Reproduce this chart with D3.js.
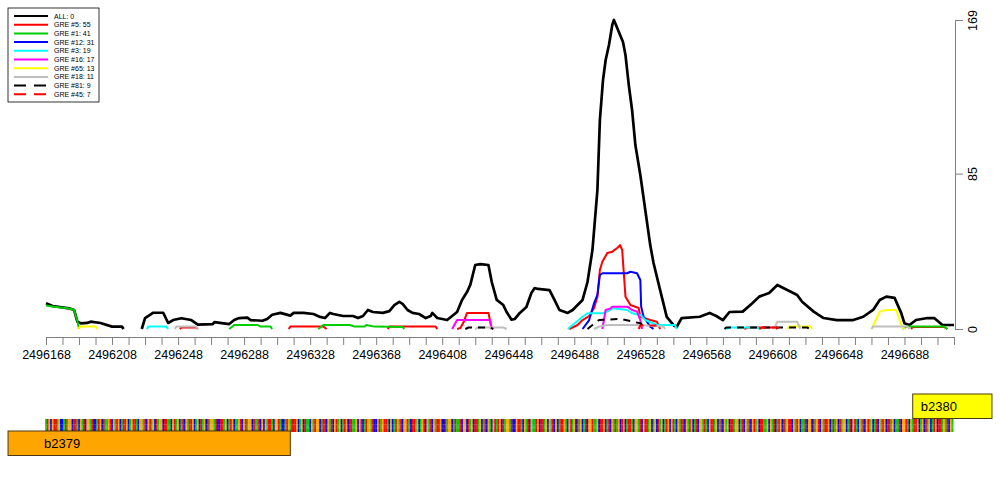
<!DOCTYPE html>
<html>
<head>
<meta charset="utf-8">
<script src="https://cdn.jsdelivr.net/npm/d3@7"></script>
<style>
  body { margin: 0; background: #fff; }
  svg { display: block; font-family: "Liberation Sans", Arial, sans-serif; }
</style>
</head>
<body>
<svg id="chart" width="1000" height="500"></svg>
<script>
const posStart = 2496168;
const posEnd = 2496718;
const countMax = 169;
const yTicks = [0, 85, 169];

const seriesLabels = ['ALL: 0', 'GRE #5: 55', 'GRE #1: 41', 'GRE #12: 31', 'GRE #3: 19',
  'GRE #16: 17', 'GRE #65: 13', 'GRE #18: 11', 'GRE #81: 9', 'GRE #45: 7'];
const seriesColors = ['#000000', '#ff0000', '#00cd00', '#0000ff', '#00ffff',
  '#ff00ff', '#ffff00', '#bebebe', '#000000', '#ff0000'];
const seriesDashed = [false, false, false, false, false, false, false, false, true, true];

// each series: list of segments, each segment = [position, reads]
const allReads = [
  [[2496168, 14.1], [2496172, 12.6], [2496182, 11.3], [2496185, 10.4], [2496187, 4.0], [2496189, 3.1],
   [2496193, 3.3], [2496195, 4.0], [2496201, 3.3], [2496208, 1.3], [2496214, 1.3], [2496215, 0]],
  [[2496226, 0], [2496228, 6.0], [2496233, 8.9], [2496239, 8.9], [2496242, 3.3], [2496245, 4.9],
   [2496250, 5.9], [2496256, 4.9], [2496260, 2.4], [2496269, 2.7], [2496270, 3.8], [2496279, 2.7],
   [2496282, 4.9], [2496285, 6.0], [2496290, 6.2], [2496292, 4.9], [2496299, 4.5], [2496302, 5.5],
   [2496305, 7.8], [2496310, 8.8], [2496316, 7.3], [2496318, 8.8], [2496324, 8.8], [2496330, 8.2],
   [2496334, 6.6], [2496337, 6.0], [2496340, 8.8], [2496342, 8.2], [2496348, 7.1], [2496354, 7.1],
   [2496357, 6.0], [2496360, 7.1], [2496363, 10.4], [2496366, 9.3], [2496372, 8.8], [2496376, 9.8],
   [2496379, 13.1], [2496382, 14.8], [2496384, 13.7], [2496387, 10.4], [2496390, 8.8], [2496394, 8.2],
   [2496398, 6.0], [2496401, 7.1], [2496402, 8.8], [2496405, 6.0], [2496411, 4.9], [2496414, 7.1],
   [2496417, 9.3], [2496420, 15.9], [2496423, 20.2], [2496425, 24.1], [2496428, 35], [2496431, 35.5],
   [2496436, 35], [2496438, 25.7], [2496441, 15.9], [2496445, 13.1], [2496447, 9.3], [2496450, 5.1],
   [2496452, 5.5], [2496455, 8.8], [2496459, 12], [2496462, 19.7], [2496464, 22.4], [2496466, 21.9],
   [2496473, 21.3], [2496476, 15.9], [2496479, 10.4], [2496484, 8.8], [2496487, 10.4], [2496493, 15.9],
   [2496496, 25.7], [2496499, 43.2], [2496500.5, 59.6], [2496502, 76], [2496503.5, 114.3],
   [2496505.4, 136.2], [2496507, 147.1], [2496509, 155.3], [2496511, 166.3], [2496512, 169],
   [2496514, 164.6], [2496516, 160.3], [2496517.5, 157], [2496519, 149.9], [2496521, 133.5],
   [2496523, 119.8], [2496525, 100.6], [2496528, 84.2], [2496531, 65.1], [2496534, 45.9],
   [2496536, 36.1], [2496540, 21.3], [2496544, 6.6], [2496548, 2.2], [2496550, 1.1], [2496553, 6.0],
   [2496564, 6.7], [2496570, 8.8], [2496574, 7.1], [2496578, 4.9], [2496582, 9.3], [2496590, 9.5],
   [2496596, 14.2], [2496600, 17.7], [2496606, 19.7], [2496611, 24.1], [2496617, 21.3], [2496623, 18.6],
   [2496626, 14.9], [2496633, 9.5], [2496639, 6.0], [2496647, 4.9], [2496657, 4.9], [2496663, 6.7],
   [2496669, 10.4], [2496673, 15.9], [2496677, 17.7], [2496682, 17], [2496686, 8.8], [2496688, 3.1],
   [2496691, 2.2], [2496695, 4.9], [2496702, 6.0], [2496706, 6.0], [2496711, 2.2], [2496718, 2.2]]
];
const gre5 = [
  [[2496249, 0], [2496250, 0.8], [2496259, 0.8], [2496260, 0]],
  [[2496315, 0], [2496316, 1.3], [2496336, 1.3], [2496338, 0]],
  [[2496375, 0], [2496376, 1.3], [2496404, 1.3], [2496405, 0]],
  [[2496417, 0], [2496419, 0.5], [2496421, 3.8], [2496423, 8.8], [2496436, 8.8], [2496438, 0]],
  [[2496485, 0], [2496490, 2.2], [2496493, 4.9], [2496497, 7.1], [2496500, 11.5], [2496502, 17.7],
   [2496503.5, 32.3], [2496505, 36.8], [2496508, 41.6], [2496511, 42.3], [2496514, 44.3],
   [2496515.7, 45.9], [2496517, 43.2], [2496519, 17.7], [2496522, 13.1], [2496527, 11.5],
   [2496528, 6.7], [2496534, 4.9], [2496538, 4.0], [2496540, 0]],
  [[2496591, 0], [2496593, 0.8], [2496610, 0.8], [2496611, 0]],
  [[2496692, 0], [2496693, 1.1], [2496712, 1.1], [2496714, 0]]
];
const gre1 = [
  [[2496168, 12.9], [2496172, 12.3], [2496182, 11.2], [2496185, 10.4], [2496187, 4.4], [2496188, 0]],
  [[2496279, 0], [2496282, 2.2], [2496296, 2.2], [2496298, 1.3], [2496304, 1.3], [2496305, 0]],
  [[2496333, 0], [2496336, 2.2], [2496352, 2.2], [2496355, 1.3], [2496361, 1.3], [2496362, 2.2],
   [2496367, 1.3], [2496384, 1.1], [2496385, 0]],
  [[2496687, 0], [2496689, 1.3], [2496712, 1.3], [2496714, 0]]
];
const gre12 = [
  [[2496493, 0], [2496497, 4.9], [2496500, 14.2], [2496502, 18.6], [2496503.5, 29.5], [2496505, 30.5],
   [2496520, 30.5], [2496522, 31.3], [2496526, 30.5], [2496528, 26.8], [2496528.5, 12.2],
   [2496530, 6.7], [2496534, 1.3], [2496536, 0]]
];
const gre3 = [
  [[2496229, 0], [2496230, 1.3], [2496241, 1.3], [2496242, 0]],
  [[2496484, 0], [2496487, 2.2], [2496493, 6.7], [2496496, 8.6], [2496505, 8.6], [2496508, 9.5],
   [2496511, 11.3], [2496520, 10.4], [2496523, 8.6], [2496528, 7.7], [2496531, 4.9], [2496538, 2.2],
   [2496549, 2.2], [2496550, 0]],
  [[2496580, 0], [2496582, 0.8], [2496599, 0.8], [2496600, 0]]
];
const gre16 = [
  [[2496414, 0], [2496417, 4.9], [2496437, 4.9], [2496438, 0]],
  [[2496505, 0], [2496507, 10.4], [2496510, 11.3], [2496511, 12.2], [2496520, 12.2], [2496523, 10.4],
   [2496526, 9.5], [2496528, 4.9], [2496529, 0]]
];
const gre65 = [
  [[2496187, 0], [2496189, 1.3], [2496198, 1.3], [2496199, 0]],
  [[2496617, 0], [2496618, 1.3], [2496631, 1.3], [2496632, 0]],
  [[2496668, 0], [2496673, 9.5], [2496677, 10.4], [2496683, 10.4], [2496686, 2.2], [2496688, 0]]
];
const gre18 = [
  [[2496246, 0], [2496247, 1.3], [2496259, 1.3], [2496260, 0]],
  [[2496428, 0], [2496430, 0.8], [2496445, 0.8], [2496447, 0]],
  [[2496500, 0], [2496503, 1.3], [2496508, 2.2], [2496526, 2.2], [2496542, 1.3], [2496543, 0]],
  [[2496609, 0], [2496611, 4.0], [2496623, 4.0], [2496625, 0]],
  [[2496668, 0], [2496669, 1.3], [2496690, 1.3], [2496691, 0]]
];
const gre81 = [
  [[2496422, 0], [2496424, 0.8], [2496437, 0.8], [2496439, 0]],
  [[2496496, 0], [2496499, 2.2], [2496503, 4.9], [2496516, 5.5], [2496528, 3.1], [2496532, 0]],
  [[2496579, 0], [2496580, 0.8], [2496629, 0.8], [2496631, 0]]
];
const gre45 = [
  [[2496527, 0], [2496528, 1.9], [2496539, 1.9], [2496540, 0]],
  [[2496600, 0], [2496602, 0.8], [2496611, 0.8], [2496613, 0]]
];
const seriesData = [allReads, gre5, gre1, gre12, gre3, gre16, gre65, gre18, gre81, gre45];

const genes = [
  { name: 'b2379', start: 2496145, end: 2496316, color: '#ffa500', row: 0 },
  { name: 'b2380', start: 2496693, end: 2496741, color: '#ffff00', row: 1 }
];

const sequenceChunks = [
  'ATGCGTTAGCCATAGGCTTACGATCGGATCCATGCTAAGTCGATGCATTG',
  'CAGTTACGGATCGTAGCTAGGCTTAACGTAGCATCGATTGCAGCTAGCTA',
  'GGATCCTTAGCATGCAAGTCGTAGGCTAATCGCGATTACGGTACCATGAT',
  'TTGCAGCTAACGATGGCATTCGATCGTAGCATGCTTAAGCGTCATGGATC',
  'CGTAGTTACGCATGATCGGTACTTAGCAGTCGATCGATTGCCTAGGCATA',
  'ATCGGCTAGCTTAGCATCGACGTATGCTAGGATCCGTTACGATCGAATGC',
  'TTAGCGATCGCATTGACGTAGCTAGCATCGGTAAGCTTGCATCGATAGCT',
  'GCATTACGGATCGTTAGCAGCTAGCATGCGTACGATTCGATGCATCGGAT',
  'ACGTTAGCATCGAGCTTAGGCATCGATCGTAGCTTAAGCGATCATGCTAG',
  'TTCGATGCAATCGGCTAGTCGATTGCATAGCTAGGCATCGTACGATCGTA',
  'GCATCGATGCTTAGCAATCGGTACGATTGCAGCTAGCATGCTTAGATCGA'
];
const baseColors = { A: '#00cd00', C: '#0000ff', G: '#ffa500', T: '#ff0000' };

const svg = d3.select('#chart');

const x = d3.scaleLinear().domain([posStart, posEnd]).range([46, 954]);
const y = d3.scaleLinear().domain([0, countMax]).range([329, 20]);

// coverage lines
const line = d3.line().x((d) => x(d[0])).y((d) => y(d[1]));
const plot = svg.append('g').attr('fill', 'none').attr('stroke-linejoin', 'round');
seriesData.forEach((segments, i) => {
  plot.selectAll(null)
    .data(segments)
    .join('path')
    .attr('d', line)
    .attr('stroke', seriesColors[i])
    .attr('stroke-width', i === 0 ? 2.7 : 2)
    .attr('stroke-dasharray', seriesDashed[i] ? '7,6' : null);
});

// bottom position axis
const xTicks = d3.range(posStart, posEnd + 1, 10);
const xAxis = svg.append('g')
  .attr('transform', 'translate(0,337)')
  .call(d3.axisBottom(x)
    .tickValues(xTicks)
    .tickSize(8)
    .tickSizeOuter(0)
    .tickFormat((d) => ((d - posStart) % 40 === 0 ? d : '')));
xAxis.selectAll('path, line').attr('stroke', '#808080');
xAxis.selectAll('text').attr('fill', '#000').attr('font-size', 12.5)
  .attr('font-family', '"Liberation Sans", Arial, sans-serif').attr('dy', '0.85em');

// right count axis
const yAxis = svg.append('g')
  .attr('transform', 'translate(955,0)')
  .call(d3.axisRight(y).tickValues(yTicks).tickSize(8).tickSizeOuter(0));
yAxis.selectAll('path, line').attr('stroke', '#808080');
yAxis.selectAll('text')
  .attr('fill', '#000')
  .attr('font-size', 12.5)
  .attr('font-family', '"Liberation Sans", Arial, sans-serif')
  .attr('x', 0).attr('dy', 0)
  .attr('text-anchor', 'middle')
  .attr('transform', 'translate(22,0) rotate(-90)');

// sequence strip
const sequence = sequenceChunks.join('').slice(0, posEnd - posStart + 1).split('');
const baseW = x(posStart + 1) - x(posStart);
const strip = svg.append('g');
strip.selectAll('rect')
  .data(sequence)
  .join('rect')
  .attr('x', (d, i) => x(posStart + i) - baseW / 2)
  .attr('y', 419)
  .attr('width', baseW + 0.3)
  .attr('height', 13)
  .attr('fill', (d) => baseColors[d]);
// letters squeezed horizontally so each stays inside its own base cell
strip.selectAll('text')
  .data(sequence)
  .join('text')
  .attr('transform', (d, i) => `translate(${x(posStart + i)},429) scale(0.2,1)`)
  .attr('text-anchor', 'middle')
  .attr('font-size', 7)
  .attr('fill', '#ffffff')
  .attr('fill-opacity', 0.6)
  .text((d) => d);

// gene boxes
const geneRowY = [431, 394];
const geneG = svg.append('g').selectAll('g').data(genes).join('g');
geneG.append('rect')
  .attr('x', (d) => x(d.start))
  .attr('y', (d) => geneRowY[d.row])
  .attr('width', (d) => x(d.end) - x(d.start))
  .attr('height', 24.5)
  .attr('fill', (d) => d.color)
  .attr('stroke', '#4a3a10')
  .attr('stroke-width', 1);
geneG.append('text')
  .attr('x', (d) => (d.start < posStart ? x(posStart) - 2 : x(d.start) + 8))
  .attr('y', (d) => geneRowY[d.row] + 16.5)
  .attr('font-size', 13)
  .attr('fill', '#000')
  .text((d) => d.name);

// legend
const legend = svg.append('g').attr('transform', 'translate(8,8)');
legend.append('rect')
  .attr('width', 91).attr('height', 94)
  .attr('fill', '#fff').attr('stroke', '#000').attr('stroke-width', 0.8);
const rows = legend.selectAll('g.row')
  .data(seriesLabels)
  .join('g')
  .attr('class', 'row')
  .attr('transform', (d, i) => `translate(0,${8 + i * 8.7})`);
rows.append('line')
  .attr('x1', 6).attr('x2', 40)
  .attr('stroke', (d, i) => seriesColors[i])
  .attr('stroke-width', 2)
  .attr('stroke-dasharray', (d, i) => (seriesDashed[i] ? '12,8' : null));
rows.append('text')
  .attr('x', 46).attr('y', 2.5)
  .attr('font-size', 7)
  .attr('fill', '#000')
  .text((d) => d);
</script>
</body>
</html>
